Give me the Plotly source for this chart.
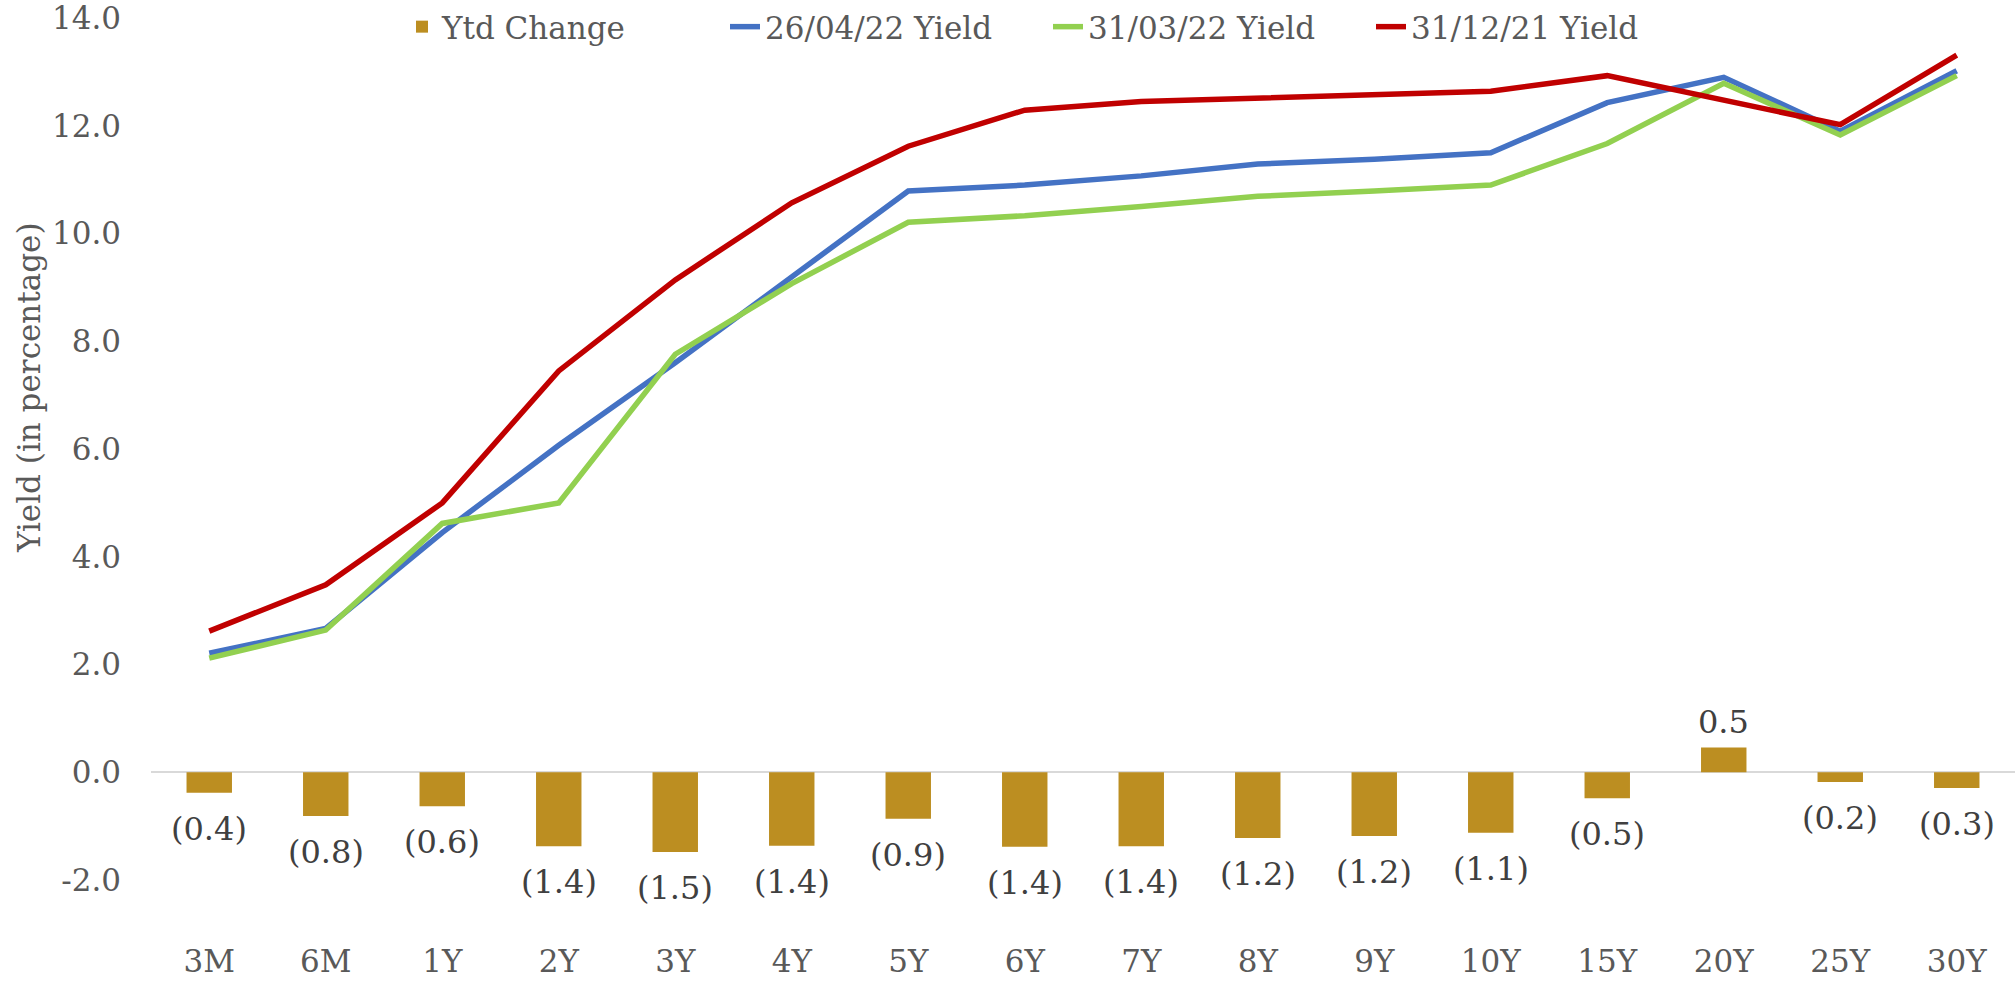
import plotly.graph_objects as go

categories = ["3M", "6M", "1Y", "2Y", "3Y", "4Y", "5Y", "6Y", "7Y", "8Y", "9Y", "10Y", "15Y", "20Y", "25Y", "30Y"]
ytd_change = [-0.38, -0.81, -0.63, -1.37, -1.48, -1.36, -0.86, -1.38, -1.37, -1.22, -1.18, -1.12, -0.48, 0.46, -0.18, -0.29]
yield_260422 = [2.21, 2.67, 4.45, 6.07, 7.60, 9.19, 10.79, 10.90, 11.07, 11.29, 11.38, 11.50, 12.43, 12.90, 11.90, 13.02]
yield_310322 = [2.12, 2.64, 4.62, 5.00, 7.76, 9.07, 10.21, 10.33, 10.50, 10.69, 10.79, 10.90, 11.67, 12.79, 11.83, 12.93]
yield_311221 = [2.62, 3.48, 5.00, 7.45, 9.14, 10.57, 11.62, 12.29, 12.45, 12.52, 12.57, 12.64, 12.93, 12.48, 12.02, 13.31]
y_ticks = [-2, 0, 2, 4, 6, 8, 10, 12, 14]

FONT = "DejaVu Serif"
GREY = "#595959"
FS = 31

def fmt(v):
    return f"({abs(v):.1f})" if v < 0 else f"{v:.1f}"

fig = go.Figure()
fig.add_trace(go.Bar(x=categories, y=ytd_change, name="Ytd Change",
                     marker=dict(color="#BC8E21", line=dict(width=0)),
                     width=0.39))
fig.add_trace(go.Scatter(x=categories, y=yield_260422, name="26/04/22 Yield", mode="lines",
                         line=dict(color="#4472C4", width=5.5)))
fig.add_trace(go.Scatter(x=categories, y=yield_310322, name="31/03/22 Yield", mode="lines",
                         line=dict(color="#92D050", width=5.5)))
fig.add_trace(go.Scatter(x=categories, y=yield_311221, name="31/12/21 Yield", mode="lines",
                         line=dict(color="#C00000", width=5.5)))

for c, v in zip(categories, ytd_change):
    fig.add_annotation(x=c, y=v, xref="x", yref="y", text=fmt(v), showarrow=False,
                       yshift=(-36 if v < 0 else 26),
                       font=dict(family=FONT, size=32, color="#404040"))

fig.add_annotation(text="Yield (in percentage)", xref="paper", yref="paper",
                   x=(29 - 151) / 1864, y=(934 - 388) / 916, textangle=-90,
                   xanchor="center", yanchor="middle",
                   showarrow=False, font=dict(family=FONT, size=FS, color=GREY))

fig.update_layout(
    width=2015, height=982,
    margin=dict(l=151, r=0, t=18, b=48),
    plot_bgcolor="white", paper_bgcolor="white",
    font=dict(family=FONT, size=FS, color=GREY),
    showlegend=True,
    legend=dict(orientation="h", x=(402 - 151) / 1864, xanchor="left",
                y=(934 - 27) / 916, yanchor="middle",
                entrywidth=278, entrywidthmode="pixels",
                font=dict(family=FONT, size=FS, color=GREY),
                bgcolor="rgba(0,0,0,0)", traceorder="normal"),
    xaxis=dict(showgrid=False, showline=False, ticks="", ticklabelstandoff=6,
               tickfont=dict(family=FONT, size=FS, color=GREY)),
    yaxis=dict(range=[-3, 14], tickvals=y_ticks, ticktext=[f"{t:.1f}" for t in y_ticks],
               showgrid=False, showline=False, zeroline=True, zerolinecolor="#D9D9D9",
               zerolinewidth=2, ticks="", ticklabelstandoff=29, ticklabeloverflow="allow",
               tickfont=dict(family=FONT, size=FS, color=GREY)),
)

fig.write_html("out.html")
